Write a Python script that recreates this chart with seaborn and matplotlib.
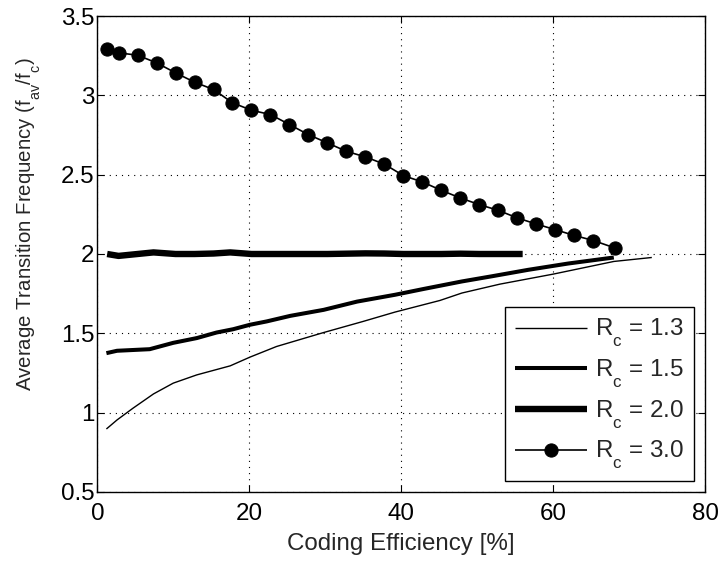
import matplotlib
matplotlib.use("Agg")
import matplotlib.pyplot as plt
import seaborn as sns
import pandas as pd

# Coding efficiency [%] and normalized average transition frequency for each code rate
x_r13 = [1.2, 2.6, 4.7, 7.4, 10.0, 13.1, 17.5, 20.1, 23.6, 29.8, 35.0, 39.2, 45.1, 48.0, 53.0, 60.0, 68.0, 73.0]
y_r13 = [0.897, 0.954, 1.028, 1.118, 1.186, 1.238, 1.295, 1.350, 1.417, 1.505, 1.575, 1.634, 1.707, 1.754, 1.810, 1.873, 1.953, 1.978]

x_r15 = [1.2, 2.6, 6.9, 10.0, 13.1, 15.7, 17.9, 20.1, 22.3, 25.4, 29.8, 34.2, 39.2, 42.9, 48.0, 52.0, 56.7, 62.0, 68.0]
y_r15 = [1.375, 1.390, 1.400, 1.440, 1.470, 1.505, 1.526, 1.554, 1.575, 1.610, 1.648, 1.700, 1.743, 1.779, 1.827, 1.860, 1.900, 1.940, 1.978]

x_r20 = [1.3, 2.8, 5.3, 7.4, 10.3, 12.8, 15.3, 17.5, 20.3, 22.8, 25.3, 27.8, 30.3, 32.8, 35.3,
         37.8, 40.3, 42.8, 45.3, 47.8, 50.3, 52.8, 56.0]
y_r20 = [2.000, 1.988, 2.000, 2.010, 2.000, 2.000, 2.003, 2.010, 2.000, 2.000, 2.000, 2.000, 2.000, 2.002, 2.004,
         2.003, 2.000, 2.000, 2.000, 2.002, 2.000, 2.000, 2.000]

x_r30 = [1.3, 2.8, 5.3, 7.8, 10.3, 12.8, 15.3, 17.8, 20.3, 22.8, 25.3, 27.8, 30.3, 32.8, 35.3, 37.8,
         40.3, 42.8, 45.3, 47.8, 50.3, 52.8, 55.3, 57.8, 60.3, 62.8, 65.3, 68.2]
y_r30 = [3.289, 3.268, 3.253, 3.205, 3.142, 3.083, 3.037, 2.953, 2.906, 2.879, 2.816, 2.752, 2.700, 2.647, 2.612, 2.566,
         2.494, 2.454, 2.401, 2.353, 2.311, 2.275, 2.227, 2.189, 2.153, 2.117, 2.085, 2.037]

labels = ["1.3", "1.5", "2.0", "3.0"]
x_ticks = [0, 20, 40, 60, 80]
y_ticks = [0.5, 1, 1.5, 2, 2.5, 3, 3.5]

sns.set_style("white")
plt.rcParams["font.family"] = ["Liberation Sans", "DejaVu Sans"]
plt.rcParams["mathtext.fontset"] = "custom"
plt.rcParams["mathtext.rm"] = "Liberation Sans"
plt.rcParams["mathtext.it"] = "Liberation Sans"

# drop subscripts further below the baseline
try:
    import matplotlib._mathtext as _mt
    _mt.FontConstantsBase.sub1 = 0.85
except Exception:
    pass

FS = 17.4
FS_Y = 14.7
fig = plt.figure(figsize=(7.19, 5.62), dpi=100)
ax = fig.add_axes([0.1353, 0.1246, 0.8452, 0.8469])

def leg(v):
    return r"R$_{\mathregular{c}}$ = " + v

series = [
    (x_r13, y_r13, dict(linewidth=1.0)),
    (x_r15, y_r15, dict(linewidth=2.9)),
    (x_r20, y_r20, dict(linewidth=4.6)),
    (x_r30, y_r30, dict(linewidth=1.2, marker="o", markersize=9.5,
                        markeredgecolor="black", markerfacecolor="black")),
]
for (xs, ys, kw), lab in zip(series, labels):
    df = pd.DataFrame({"x": xs, "y": ys})
    sns.lineplot(data=df, x="x", y="y", ax=ax, color="black", label=leg(lab),
                 solid_capstyle="butt", sort=False, **kw)

ax.set_xlim(0, 80)
ax.set_ylim(0.5, 3.5)
ax.set_xticks(x_ticks)
ax.set_yticks(y_ticks)
ax.set_xticklabels([str(t) for t in x_ticks])
ax.set_yticklabels(["0.5", "1", "1.5", "2", "2.5", "3", "3.5"])
ax.tick_params(direction="in", length=5, width=0.8, labelsize=FS, top=True, right=True,
               bottom=True, left=True, colors="black")
ax.tick_params(axis="x", pad=8)
ax.tick_params(axis="y", pad=2)
ax.grid(True, color="black", linestyle=(0, (1, 4.5)), linewidth=0.8)
for s in ax.spines.values():
    s.set_visible(True)
    s.set_color("black")
    s.set_linewidth(1.0)

ax.set_xlabel("Coding Efficiency [%]", fontsize=FS, labelpad=6)
ax.set_ylabel(r"Average Transition Frequency (f$_{\mathregular{av}}$/f$_{\mathregular{c}}$)",
              fontsize=FS_Y)
ax.yaxis.set_label_coords(-0.089, 0.563)

lg = ax.legend(loc="lower right", fontsize=FS, frameon=True, fancybox=False, shadow=False,
               handlelength=3.0, handletextpad=0.35, labelspacing=0.36, borderpad=0.4,
               borderaxespad=0.45)
lg.get_frame().set_edgecolor("black")
lg.get_frame().set_linewidth(1.0)
lg.get_frame().set_alpha(1)

fig.savefig("out.png", dpi=100, facecolor="white")
